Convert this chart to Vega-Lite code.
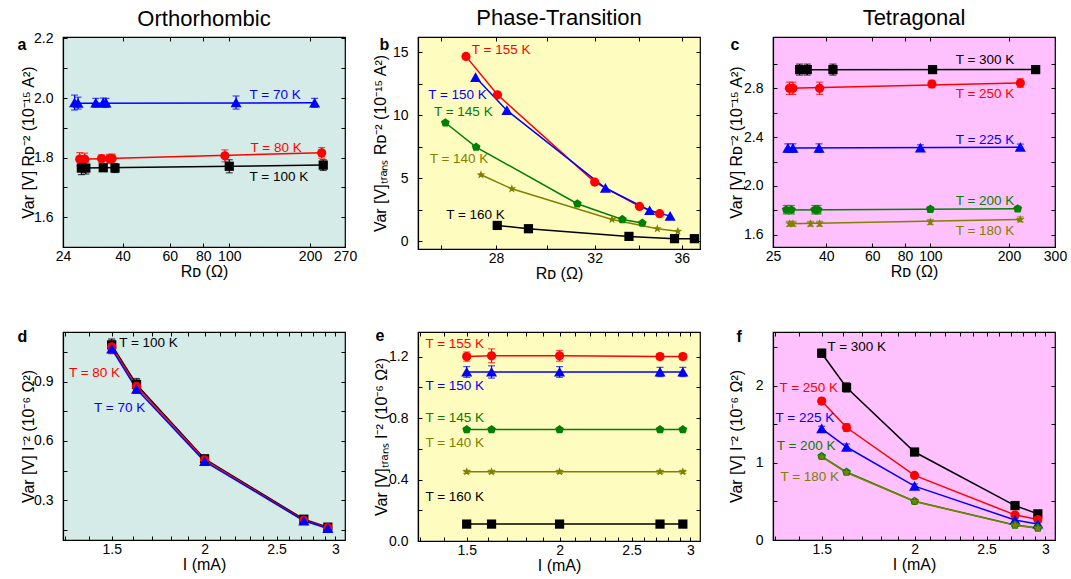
{
"$schema": "https://vega.github.io/schema/vega-lite/v6.json",
"padding": {"left": 16, "top": 6, "right": 2, "bottom": 2},
"background": "white",
"config": {
  "view": {"stroke": "#000"},
  "axis": {"tickSize": -4, "tickColor": "#000", "tickWidth": 1, "domainColor": "#000", "domainWidth": 1.2, "labelFont": "Liberation Sans", "labelFontSize": 14, "labelColor": "#000", "titleFont": "Liberation Sans", "titleFontSize": 16, "titleFontWeight": "normal", "titleColor": "#000", "grid": false, "labelFlush": false, "labelOverlap": false},
  "axisX": {"labelPadding": 6, "titlePadding": 0},
  "axisY": {"labelPadding": 14, "titleBaseline": "middle"},
  "title": {"font": "Liberation Sans", "fontSize": 22, "fontWeight": "normal", "anchor": "middle", "frame": "group", "color": "#000"}
},
"datasets": {
  "pa": [
    {"c":"b","x":26.5,"y":1.985,"e":0.025},{"c":"b","x":27.3,"y":1.983,"e":0.02},{"c":"b","x":31.8,"y":1.984,"e":0.015},{"c":"b","x":33.9,"y":1.985,"e":0.015},{"c":"b","x":34.7,"y":1.984,"e":0.015},{"c":"b","x":106,"y":1.985,"e":0.022},{"c":"b","x":208,"y":1.984,"e":0.015},
    {"c":"r","x":27.7,"y":1.795,"e":0.022},{"c":"r","x":28.9,"y":1.795,"e":0.02},{"c":"r","x":33.4,"y":1.797,"e":0.012},{"c":"r","x":35.7,"y":1.796,"e":0.015},{"c":"r","x":36.6,"y":1.797,"e":0.015},{"c":"r","x":96.3,"y":1.806,"e":0.02},{"c":"r","x":221,"y":1.816,"e":0.018},
    {"c":"k","x":28.1,"y":1.765,"e":0.022},{"c":"k","x":29.2,"y":1.765,"e":0.02},{"c":"k","x":33.9,"y":1.766,"e":0.012},{"c":"k","x":37.5,"y":1.765,"e":0.015},{"c":"k","x":100,"y":1.771,"e":0.022},{"c":"k","x":224,"y":1.775,"e":0.018}
  ],
  "fa": [
    {"c":"b","x":26.5,"y":1.983},{"c":"b","x":208,"y":1.984},
    {"c":"r","x":27.7,"y":1.795},{"c":"r","x":221,"y":1.816},
    {"c":"k","x":28.1,"y":1.765},{"c":"k","x":224,"y":1.775}
  ],
  "la": [
    {"c":"b","x":119,"y":2.011,"t":"T = 70 K"},
    {"c":"r","x":120,"y":1.834,"t":"T = 80 K"},
    {"c":"k","x":119,"y":1.735,"t":"T = 100 K"}
  ],
  "pb": [
    {"c":"r","x":26.89,"y":14.66},{"c":"r","x":28.06,"y":11.61},{"c":"r","x":32.0,"y":4.68},{"c":"r","x":34.0,"y":2.75},{"c":"r","x":34.94,"y":2.17},
    {"c":"b","x":27.24,"y":13.0},{"c":"b","x":28.42,"y":10.37},{"c":"b","x":32.47,"y":4.21},{"c":"b","x":34.47,"y":2.43},{"c":"b","x":35.44,"y":1.98},
    {"c":"g","x":26.15,"y":9.39},{"c":"g","x":27.26,"y":7.46},{"c":"g","x":31.26,"y":2.96},{"c":"g","x":33.22,"y":1.72},{"c":"g","x":34.13,"y":1.43},
    {"c":"o","x":27.44,"y":5.26},{"c":"o","x":28.61,"y":4.15},{"c":"o","x":32.76,"y":1.72},{"c":"o","x":34.83,"y":0.98},{"c":"o","x":35.81,"y":0.77},
    {"c":"k","x":28.05,"y":1.24},{"c":"k","x":29.26,"y":0.98},{"c":"k","x":33.52,"y":0.37},{"c":"k","x":35.65,"y":0.19},{"c":"k","x":36.62,"y":0.19}
  ],
  "lb": [
    {"c":"r","x":27.1,"y":15.2,"t":"T = 155 K"},
    {"c":"b","x":25.55,"y":11.6,"t":"T = 150 K"},
    {"c":"g","x":25.75,"y":10.24,"t":"T = 145 K"},
    {"c":"o","x":25.6,"y":6.53,"t":"T = 140 K"},
    {"c":"k","x":26.18,"y":2.09,"t":"T = 160 K"}
  ],
  "pc": [
    {"c":"k","x":31.6,"y":2.953,"e":0.045},{"c":"k","x":33.8,"y":2.953,"e":0.045},{"c":"k","x":42.4,"y":2.953,"e":0.045},{"c":"k","x":102,"y":2.953,"e":0.03},{"c":"k","x":253,"y":2.953,"e":0.03},
    {"c":"r","x":28.9,"y":2.80,"e":0.05},{"c":"r","x":29.8,"y":2.80,"e":0.05},{"c":"r","x":37.7,"y":2.80,"e":0.05},{"c":"r","x":101.4,"y":2.835,"e":0.03},{"c":"r","x":221,"y":2.843,"e":0.035},
    {"c":"b","x":28.5,"y":2.31,"e":0.035},{"c":"b","x":29.8,"y":2.31,"e":0.035},{"c":"b","x":37.5,"y":2.31,"e":0.035},{"c":"b","x":91.6,"y":2.312,"e":0.025},{"c":"b","x":221,"y":2.318,"e":0.025},
    {"c":"g","x":28.1,"y":1.805,"e":0.035},{"c":"g","x":29.4,"y":1.805,"e":0.035},{"c":"g","x":36.1,"y":1.805,"e":0.035},{"c":"g","x":37.2,"y":1.805,"e":0.035},{"c":"g","x":100,"y":1.81,"e":0.02},{"c":"g","x":216,"y":1.813,"e":0.02},
    {"c":"o","x":28.9,"y":1.69,"e":0.02},{"c":"o","x":29.8,"y":1.69,"e":0.02},{"c":"o","x":34.8,"y":1.69,"e":0.02},{"c":"o","x":37.7,"y":1.69,"e":0.02},{"c":"o","x":100,"y":1.704,"e":0.02},{"c":"o","x":221,"y":1.726,"e":0.02}
  ],
  "fc": [
    {"c":"k","x":31.6,"y":2.951},{"c":"k","x":253,"y":2.953},
    {"c":"r","x":28.9,"y":2.80},{"c":"r","x":221,"y":2.843},
    {"c":"b","x":28.5,"y":2.31},{"c":"b","x":221,"y":2.318},
    {"c":"g","x":28.1,"y":1.804},{"c":"g","x":216,"y":1.813},
    {"c":"o","x":28.9,"y":1.69},{"c":"o","x":221,"y":1.726}
  ],
  "lc": [
    {"c":"k","x":125,"y":3.035,"t":"T = 300 K"},
    {"c":"r","x":125,"y":2.753,"t":"T = 250 K"},
    {"c":"b","x":125,"y":2.38,"t":"T = 225 K"},
    {"c":"g","x":125,"y":1.874,"t":"T = 200 K"},
    {"c":"o","x":125,"y":1.63,"t":"T = 180 K"}
  ],
  "pd": [
    {"c":"k","x":1.5,"y":1.085,"e":0.03},{"c":"k","x":1.62,"y":0.885,"e":0.03},{"c":"k","x":2.0,"y":0.51,"e":0.015},{"c":"k","x":2.72,"y":0.205,"e":0.01},{"c":"k","x":2.93,"y":0.165,"e":0.01},
    {"c":"r","x":1.5,"y":1.075,"e":0.035},{"c":"r","x":1.62,"y":0.875,"e":0.035},{"c":"r","x":2.0,"y":0.505,"e":0.015},{"c":"r","x":2.72,"y":0.2,"e":0.01},{"c":"r","x":2.93,"y":0.162,"e":0.01},
    {"c":"b","x":1.5,"y":1.065,"e":0.02},{"c":"b","x":1.62,"y":0.862,"e":0.02},{"c":"b","x":2.0,"y":0.497,"e":0.01},{"c":"b","x":2.72,"y":0.197,"e":0.01},{"c":"b","x":2.93,"y":0.158,"e":0.01}
  ],
  "ld": [
    {"c":"k","x":1.535,"y":1.094,"t":"T = 100 K"},
    {"c":"r","x":1.314,"y":0.942,"t":"T = 80 K"},
    {"c":"b","x":1.42,"y":0.766,"t":"T = 70 K"}
  ],
  "pe": [
    {"c":"r","x":1.5,"y":1.2,"e":0.03},{"c":"r","x":1.62,"y":1.205,"e":0.045},{"c":"r","x":2.0,"y":1.205,"e":0.035},{"c":"r","x":2.73,"y":1.2,"e":0.02},{"c":"r","x":2.93,"y":1.2,"e":0.02},
    {"c":"b","x":1.5,"y":1.1,"e":0.035},{"c":"b","x":1.62,"y":1.1,"e":0.04},{"c":"b","x":2.0,"y":1.1,"e":0.035},{"c":"b","x":2.73,"y":1.1,"e":0.03},{"c":"b","x":2.93,"y":1.1,"e":0.03},
    {"c":"g","x":1.5,"y":0.725,"e":0.01},{"c":"g","x":1.62,"y":0.725,"e":0.01},{"c":"g","x":2.0,"y":0.725,"e":0.01},{"c":"g","x":2.73,"y":0.725,"e":0.01},{"c":"g","x":2.93,"y":0.725,"e":0.01},
    {"c":"o","x":1.5,"y":0.45,"e":0.01},{"c":"o","x":1.62,"y":0.45,"e":0.01},{"c":"o","x":2.0,"y":0.45,"e":0.01},{"c":"o","x":2.73,"y":0.45,"e":0.01},{"c":"o","x":2.93,"y":0.45,"e":0.01},
    {"c":"k","x":1.5,"y":0.11,"e":0.005},{"c":"k","x":1.62,"y":0.11,"e":0.005},{"c":"k","x":2.0,"y":0.11,"e":0.005},{"c":"k","x":2.73,"y":0.11,"e":0.005},{"c":"k","x":2.93,"y":0.11,"e":0.005}
  ],
  "le": [
    {"c":"r","x":1.32,"y":1.283,"t":"T = 155 K"},
    {"c":"b","x":1.32,"y":1.011,"t":"T = 150 K"},
    {"c":"g","x":1.32,"y":0.802,"t":"T = 145 K"},
    {"c":"o","x":1.32,"y":0.637,"t":"T = 140 K"},
    {"c":"k","x":1.32,"y":0.289,"t":"T = 160 K"}
  ],
  "pf": [
    {"c":"k","x":1.5,"y":2.425,"e":0.05},{"c":"k","x":1.62,"y":1.98,"e":0.06},{"c":"k","x":2.0,"y":1.142,"e":0.04},{"c":"k","x":2.73,"y":0.447,"e":0.02},{"c":"k","x":2.93,"y":0.339,"e":0.02},
    {"c":"r","x":1.5,"y":1.803,"e":0.04},{"c":"r","x":1.62,"y":1.46,"e":0.05},{"c":"r","x":2.0,"y":0.838,"e":0.03},{"c":"r","x":2.73,"y":0.326,"e":0.02},{"c":"r","x":2.93,"y":0.265,"e":0.02},
    {"c":"b","x":1.5,"y":1.447,"e":0.03},{"c":"b","x":1.62,"y":1.207,"e":0.04},{"c":"b","x":2.0,"y":0.699,"e":0.03},{"c":"b","x":2.73,"y":0.26,"e":0.02},{"c":"b","x":2.93,"y":0.208,"e":0.02},
    {"c":"g","x":1.5,"y":1.086,"e":0.02},{"c":"g","x":1.62,"y":0.882,"e":0.02},{"c":"g","x":2.0,"y":0.503,"e":0.02},{"c":"g","x":2.73,"y":0.195,"e":0.015},{"c":"g","x":2.93,"y":0.156,"e":0.015},
    {"c":"o","x":1.5,"y":1.08,"e":0.02},{"c":"o","x":1.62,"y":0.875,"e":0.02},{"c":"o","x":2.0,"y":0.5,"e":0.02},{"c":"o","x":2.73,"y":0.19,"e":0.015},{"c":"o","x":2.93,"y":0.152,"e":0.015}
  ],
  "lf": [
    {"c":"k","x":1.527,"y":2.51,"t":"T = 300 K"},
    {"c":"r","x":1.316,"y":1.97,"t":"T = 250 K"},
    {"c":"b","x":1.30,"y":1.585,"t":"T = 225 K"},
    {"c":"g","x":1.305,"y":1.216,"t":"T = 200 K"},
    {"c":"o","x":1.32,"y":0.816,"t":"T = 180 K"}
  ]
},
"vconcat": [
 {
  "bounds": "flush",
  "spacing": 73,
  "hconcat": [
   {
    "width": 282, "height": 210,
    "title": {"text": "Orthorhombic", "offset": 0},
    "view": {"fill": "#d5ebe8", "stroke": "#000", "strokeWidth": 1.2},
    "resolve": {"scale": {"x": "independent", "y": "independent"}},
    "layer": [
     {"data": {"name": "pa"}, "mark": {"type": "errorbar", "ticks": {"size": 7}, "thickness": 1.2},
      "encoding": {
       "x": {"field": "x", "type": "quantitative", "scale": {"type": "log", "domain": [24, 270], "nice": false}, "axis": null},
       "y": {"field": "y", "type": "quantitative", "scale": {"domain": [1.5, 2.205], "nice": false, "zero": false}, "axis": null},
       "yError": {"field": "e"},
       "color": {"field": "c", "type": "nominal", "scale": {"domain": ["k","r","b","g","o"], "range": ["#000000","#ff0000","#0000ff","#008000","#808000"]}, "legend": null}}},
     {"data": {"name": "fa"}, "mark": {"type": "line", "strokeWidth": 1.5},
      "encoding": {
       "x": {"field": "x", "type": "quantitative", "scale": {"type": "log", "domain": [24, 270], "nice": false}, "axis": {"orient": "bottom", "values": [24, 40, 60, 80, 100, 200, 270], "format": "~g", "title": "Rᴅ (Ω)"}},
       "y": {"field": "y", "type": "quantitative", "scale": {"domain": [1.5, 2.205], "nice": false, "zero": false}, "axis": {"orient": "left", "values": [1.6, 1.7, 1.8, 1.9, 2.0, 2.1, 2.2], "labelExpr": "round(datum.value*10)%2==0 ? format(datum.value,'.1f') : ''", "title": "Var [V] Rᴅ⁻²  (10⁻¹⁵ A²)", "titleX": -35}},
       "color": {"field": "c", "type": "nominal", "scale": {"domain": ["k","r","b","g","o"], "range": ["#000000","#ff0000","#0000ff","#008000","#808000"]}, "legend": null}}},
     {"data": {"name": "pa"}, "mark": {"type": "point", "filled": true, "opacity": 1, "size": 85},
      "encoding": {
       "x": {"field": "x", "type": "quantitative", "scale": {"type": "log", "domain": [24, 270], "nice": false}, "axis": null},
       "y": {"field": "y", "type": "quantitative", "scale": {"domain": [1.5, 2.205], "nice": false, "zero": false}, "axis": null},
       "color": {"field": "c", "type": "nominal", "scale": {"domain": ["k","r","b","g","o"], "range": ["#000000","#ff0000","#0000ff","#008000","#808000"]}, "legend": null},
       "shape": {"field": "c", "type": "nominal", "scale": {"domain": ["k","r","b","g","o"], "range": ["square","circle","M0,-1.1L1.2,1L-1.2,1Z","M0,-1L0.951,-0.309L0.588,0.809L-0.588,0.809L-0.951,-0.309Z","M0,-1L0.235,-0.324L0.951,-0.309L0.38,0.124L0.588,0.809L0,0.4L-0.588,0.809L-0.38,0.124L-0.951,-0.309L-0.235,-0.324Z"]}, "legend": null}}},
     {"data": {"name": "la"}, "mark": {"type": "text", "align": "left", "baseline": "middle", "fontSize": 13.5, "font": "Liberation Sans"},
      "encoding": {
       "x": {"field": "x", "type": "quantitative", "scale": {"type": "log", "domain": [24, 270], "nice": false}, "axis": {"orient": "top", "values": [24, 40, 60, 80, 100, 200, 270], "labels": false, "domain": false, "title": "a", "titleX": -46, "titleY": 12, "titleAngle": 0, "titleAlign": "left", "titleBaseline": "alphabetic", "titleFontWeight": "bold"}},
       "y": {"field": "y", "type": "quantitative", "scale": {"domain": [1.5, 2.205], "nice": false, "zero": false}, "axis": {"orient": "right", "values": [1.6, 1.7, 1.8, 1.9, 2.0, 2.1, 2.2], "labels": false, "title": null, "domain": false}},
       "text": {"field": "t"},
       "color": {"field": "c", "type": "nominal", "scale": {"domain": ["k","r","b","g","o"], "range": ["#000000","#ff0000","#0000ff","#008000","#808000"]}, "legend": null}}}
    ]
   },
   {
    "width": 282, "height": 212,
    "title": {"text": "Phase-Transition", "offset": 6},
    "view": {"fill": "#fffcc0", "stroke": "#000", "strokeWidth": 1.2},
    "resolve": {"scale": {"x": "independent", "y": "independent"}},
    "layer": [
     {"data": {"name": "pb"}, "mark": {"type": "line", "strokeWidth": 1.5},
      "encoding": {
       "x": {"field": "x", "type": "quantitative", "scale": {"type": "log", "domain": [25.2, 36.9], "nice": false}, "axis": {"orient": "bottom", "values": [26, 28, 30, 32, 34, 36], "labelExpr": "datum.value%4==0 ? format(datum.value,'d') : ''", "title": "Rᴅ (Ω)"}},
       "y": {"field": "y", "type": "quantitative", "scale": {"domain": [-0.63, 16.2], "nice": false, "zero": false}, "axis": {"orient": "left", "values": [0, 2.5, 5, 7.5, 10, 12.5, 15], "labelExpr": "datum.value%5==0 ? format(datum.value,'d') : ''", "title": "Var [V]ₜᵣₐₙₛ Rᴅ⁻²  (10⁻¹⁵ A²)", "titleX": -38}},
       "color": {"field": "c", "type": "nominal", "scale": {"domain": ["k","r","b","g","o"], "range": ["#000000","#ff0000","#0000ff","#008000","#808000"]}, "legend": null}}},
     {"data": {"name": "pb"}, "mark": {"type": "point", "filled": true, "opacity": 1, "size": 85},
      "encoding": {
       "x": {"field": "x", "type": "quantitative", "scale": {"type": "log", "domain": [25.2, 36.9], "nice": false}, "axis": null},
       "y": {"field": "y", "type": "quantitative", "scale": {"domain": [-0.63, 16.2], "nice": false, "zero": false}, "axis": null},
       "color": {"field": "c", "type": "nominal", "scale": {"domain": ["k","r","b","g","o"], "range": ["#000000","#ff0000","#0000ff","#008000","#808000"]}, "legend": null},
       "shape": {"field": "c", "type": "nominal", "scale": {"domain": ["k","r","b","g","o"], "range": ["square","circle","M0,-1.1L1.2,1L-1.2,1Z","M0,-1L0.951,-0.309L0.588,0.809L-0.588,0.809L-0.951,-0.309Z","M0,-1L0.235,-0.324L0.951,-0.309L0.38,0.124L0.588,0.809L0,0.4L-0.588,0.809L-0.38,0.124L-0.951,-0.309L-0.235,-0.324Z"]}, "legend": null}}},
     {"data": {"name": "lb"}, "mark": {"type": "text", "align": "left", "baseline": "middle", "fontSize": 13.5, "font": "Liberation Sans"},
      "encoding": {
       "x": {"field": "x", "type": "quantitative", "scale": {"type": "log", "domain": [25.2, 36.9], "nice": false}, "axis": {"orient": "top", "values": [26, 28, 30, 32, 34, 36], "labels": false, "domain": false, "title": "b", "titleX": -39, "titleY": 12, "titleAngle": 0, "titleAlign": "left", "titleBaseline": "alphabetic", "titleFontWeight": "bold"}},
       "y": {"field": "y", "type": "quantitative", "scale": {"domain": [-0.63, 16.2], "nice": false, "zero": false}, "axis": {"orient": "right", "values": [0, 2.5, 5, 7.5, 10, 12.5, 15], "labels": false, "title": null, "domain": false}},
       "text": {"field": "t"},
       "color": {"field": "c", "type": "nominal", "scale": {"domain": ["k","r","b","g","o"], "range": ["#000000","#ff0000","#0000ff","#008000","#808000"]}, "legend": null}}}
    ]
   },
   {
    "width": 282, "height": 210,
    "title": {"text": "Tetragonal", "offset": 6},
    "view": {"fill": "#fec1fe", "stroke": "#000", "strokeWidth": 1.2},
    "resolve": {"scale": {"x": "independent", "y": "independent"}},
    "layer": [
     {"data": {"name": "pc"}, "mark": {"type": "errorbar", "ticks": {"size": 7}, "thickness": 1.2},
      "encoding": {
       "x": {"field": "x", "type": "quantitative", "scale": {"type": "log", "domain": [25, 300], "nice": false}, "axis": null},
       "y": {"field": "y", "type": "quantitative", "scale": {"domain": [1.5, 3.22], "nice": false, "zero": false}, "axis": null},
       "yError": {"field": "e"},
       "color": {"field": "c", "type": "nominal", "scale": {"domain": ["k","r","b","g","o"], "range": ["#000000","#ff0000","#0000ff","#008000","#808000"]}, "legend": null}}},
     {"data": {"name": "fc"}, "mark": {"type": "line", "strokeWidth": 1.5},
      "encoding": {
       "x": {"field": "x", "type": "quantitative", "scale": {"type": "log", "domain": [25, 300], "nice": false}, "axis": {"orient": "bottom", "values": [25, 40, 60, 80, 100, 200, 300], "format": "~g", "title": "Rᴅ (Ω)"}},
       "y": {"field": "y", "type": "quantitative", "scale": {"domain": [1.5, 3.22], "nice": false, "zero": false}, "axis": {"orient": "left", "values": [1.6, 1.8, 2.0, 2.2, 2.4, 2.6, 2.8, 3.0], "labelExpr": "round(datum.value*10)%4==0 ? format(datum.value,'.1f') : ''", "title": "Var [V] Rᴅ⁻²  (10⁻¹⁵ A²)", "titleX": -37}},
       "color": {"field": "c", "type": "nominal", "scale": {"domain": ["k","r","b","g","o"], "range": ["#000000","#ff0000","#0000ff","#008000","#808000"]}, "legend": null}}},
     {"data": {"name": "pc"}, "mark": {"type": "point", "filled": true, "opacity": 1, "size": 85},
      "encoding": {
       "x": {"field": "x", "type": "quantitative", "scale": {"type": "log", "domain": [25, 300], "nice": false}, "axis": null},
       "y": {"field": "y", "type": "quantitative", "scale": {"domain": [1.5, 3.22], "nice": false, "zero": false}, "axis": null},
       "color": {"field": "c", "type": "nominal", "scale": {"domain": ["k","r","b","g","o"], "range": ["#000000","#ff0000","#0000ff","#008000","#808000"]}, "legend": null},
       "shape": {"field": "c", "type": "nominal", "scale": {"domain": ["k","r","b","g","o"], "range": ["square","circle","M0,-1.1L1.2,1L-1.2,1Z","M0,-1L0.951,-0.309L0.588,0.809L-0.588,0.809L-0.951,-0.309Z","M0,-1L0.235,-0.324L0.951,-0.309L0.38,0.124L0.588,0.809L0,0.4L-0.588,0.809L-0.38,0.124L-0.951,-0.309L-0.235,-0.324Z"]}, "legend": null}}},
     {"data": {"name": "lc"}, "mark": {"type": "text", "align": "left", "baseline": "middle", "fontSize": 13.5, "font": "Liberation Sans"},
      "encoding": {
       "x": {"field": "x", "type": "quantitative", "scale": {"type": "log", "domain": [25, 300], "nice": false}, "axis": {"orient": "top", "values": [25, 40, 60, 80, 100, 200, 300], "labels": false, "domain": false, "title": "c", "titleX": -43, "titleY": 12, "titleAngle": 0, "titleAlign": "left", "titleBaseline": "alphabetic", "titleFontWeight": "bold"}},
       "y": {"field": "y", "type": "quantitative", "scale": {"domain": [1.5, 3.22], "nice": false, "zero": false}, "axis": {"orient": "right", "values": [1.6, 1.8, 2.0, 2.2, 2.4, 2.6, 2.8, 3.0], "labels": false, "title": null, "domain": false}},
       "text": {"field": "t"},
       "color": {"field": "c", "type": "nominal", "scale": {"domain": ["k","r","b","g","o"], "range": ["#000000","#ff0000","#0000ff","#008000","#808000"]}, "legend": null}}}
    ]
   }
  ]
 },
 {
  "bounds": "flush",
  "spacing": 73,
  "hconcat": [
   {
    "width": 282, "height": 208,
    "view": {"fill": "#d5ebe8", "stroke": "#000", "strokeWidth": 1.2},
    "resolve": {"scale": {"x": "independent", "y": "independent"}},
    "layer": [
     {"data": {"name": "pd"}, "mark": {"type": "errorbar", "ticks": {"size": 7}, "thickness": 1.2},
      "encoding": {
       "x": {"field": "x", "type": "quantitative", "scale": {"type": "log", "domain": [1.29, 3.09], "nice": false}, "axis": null},
       "y": {"field": "y", "type": "quantitative", "scale": {"domain": [0.1, 1.15], "nice": false, "zero": false}, "axis": null},
       "yError": {"field": "e"},
       "color": {"field": "c", "type": "nominal", "scale": {"domain": ["k","r","b","g","o"], "range": ["#000000","#ff0000","#0000ff","#008000","#808000"]}, "legend": null}}},
     {"data": {"name": "pd"}, "mark": {"type": "line", "strokeWidth": 1.5},
      "encoding": {
       "x": {"field": "x", "type": "quantitative", "scale": {"type": "log", "domain": [1.29, 3.09], "nice": false}, "axis": {"orient": "bottom", "values": [1.3,1.4,1.5,1.6,1.7,1.8,1.9,2,2.1,2.2,2.3,2.4,2.5,2.6,2.7,2.8,2.9,3], "labelExpr": "round(datum.value*10)%5==0 ? format(datum.value,'~g') : ''", "title": "I (mA)"}},
       "y": {"field": "y", "type": "quantitative", "scale": {"domain": [0.1, 1.15], "nice": false, "zero": false}, "axis": {"orient": "left", "values": [0.15, 0.3, 0.45, 0.6, 0.75, 0.9, 1.05], "labelExpr": "round(datum.value*100)%30==0 ? format(datum.value,'.1f') : ''", "title": "Var [V] I⁻²  (10⁻⁶ Ω²)", "titleX": -35}},
       "color": {"field": "c", "type": "nominal", "scale": {"domain": ["k","r","b","g","o"], "range": ["#000000","#ff0000","#0000ff","#008000","#808000"]}, "legend": null}}},
     {"data": {"name": "pd"}, "mark": {"type": "point", "filled": true, "opacity": 1, "size": 85},
      "encoding": {
       "x": {"field": "x", "type": "quantitative", "scale": {"type": "log", "domain": [1.29, 3.09], "nice": false}, "axis": null},
       "y": {"field": "y", "type": "quantitative", "scale": {"domain": [0.1, 1.15], "nice": false, "zero": false}, "axis": null},
       "color": {"field": "c", "type": "nominal", "scale": {"domain": ["k","r","b","g","o"], "range": ["#000000","#ff0000","#0000ff","#008000","#808000"]}, "legend": null},
       "shape": {"field": "c", "type": "nominal", "scale": {"domain": ["k","r","b","g","o"], "range": ["square","circle","M0,-1.1L1.2,1L-1.2,1Z","M0,-1L0.951,-0.309L0.588,0.809L-0.588,0.809L-0.951,-0.309Z","M0,-1L0.235,-0.324L0.951,-0.309L0.38,0.124L0.588,0.809L0,0.4L-0.588,0.809L-0.38,0.124L-0.951,-0.309L-0.235,-0.324Z"]}, "legend": null}}},
     {"data": {"name": "ld"}, "mark": {"type": "text", "align": "left", "baseline": "middle", "fontSize": 13.5, "font": "Liberation Sans"},
      "encoding": {
       "x": {"field": "x", "type": "quantitative", "scale": {"type": "log", "domain": [1.29, 3.09], "nice": false}, "axis": {"orient": "top", "values": [1.3,1.4,1.5,1.6,1.7,1.8,1.9,2,2.1,2.2,2.3,2.4,2.5,2.6,2.7,2.8,2.9,3], "labels": false, "domain": false, "title": "d", "titleX": -46, "titleY": 9, "titleAngle": 0, "titleAlign": "left", "titleBaseline": "alphabetic", "titleFontWeight": "bold"}},
       "y": {"field": "y", "type": "quantitative", "scale": {"domain": [0.1, 1.15], "nice": false, "zero": false}, "axis": {"orient": "right", "values": [0.15, 0.3, 0.45, 0.6, 0.75, 0.9, 1.05], "labels": false, "title": null, "domain": false}},
       "text": {"field": "t"},
       "color": {"field": "c", "type": "nominal", "scale": {"domain": ["k","r","b","g","o"], "range": ["#000000","#ff0000","#0000ff","#008000","#808000"]}, "legend": null}}}
    ]
   },
   {
    "width": 282, "height": 209,
    "view": {"fill": "#fffcc0", "stroke": "#000", "strokeWidth": 1.2},
    "resolve": {"scale": {"x": "independent", "y": "independent"}},
    "layer": [
     {"data": {"name": "pe"}, "mark": {"type": "errorbar", "ticks": {"size": 7}, "thickness": 1.2},
      "encoding": {
       "x": {"field": "x", "type": "quantitative", "scale": {"type": "log", "domain": [1.29, 3.09], "nice": false}, "axis": null},
       "y": {"field": "y", "type": "quantitative", "scale": {"domain": [0, 1.36], "nice": false, "zero": false}, "axis": null},
       "yError": {"field": "e"},
       "color": {"field": "c", "type": "nominal", "scale": {"domain": ["k","r","b","g","o"], "range": ["#000000","#ff0000","#0000ff","#008000","#808000"]}, "legend": null}}},
     {"data": {"name": "pe"}, "mark": {"type": "line", "strokeWidth": 1.5},
      "encoding": {
       "x": {"field": "x", "type": "quantitative", "scale": {"type": "log", "domain": [1.29, 3.09], "nice": false}, "axis": {"orient": "bottom", "values": [1.3,1.4,1.5,1.6,1.7,1.8,1.9,2,2.1,2.2,2.3,2.4,2.5,2.6,2.7,2.8,2.9,3], "labelExpr": "round(datum.value*10)%5==0 ? format(datum.value,'~g') : ''", "title": "I (mA)"}},
       "y": {"field": "y", "type": "quantitative", "scale": {"domain": [0, 1.36], "nice": false, "zero": false}, "axis": {"orient": "left", "values": [0, 0.2, 0.4, 0.6, 0.8, 1.0, 1.2], "labelExpr": "round(datum.value*10)%4==0 ? format(datum.value,'.1f') : ''", "title": "Var [V]ₜᵣₐₙₛ I⁻²  (10⁻⁶ Ω²)", "titleX": -37}},
       "color": {"field": "c", "type": "nominal", "scale": {"domain": ["k","r","b","g","o"], "range": ["#000000","#ff0000","#0000ff","#008000","#808000"]}, "legend": null}}},
     {"data": {"name": "pe"}, "mark": {"type": "point", "filled": true, "opacity": 1, "size": 85},
      "encoding": {
       "x": {"field": "x", "type": "quantitative", "scale": {"type": "log", "domain": [1.29, 3.09], "nice": false}, "axis": null},
       "y": {"field": "y", "type": "quantitative", "scale": {"domain": [0, 1.36], "nice": false, "zero": false}, "axis": null},
       "color": {"field": "c", "type": "nominal", "scale": {"domain": ["k","r","b","g","o"], "range": ["#000000","#ff0000","#0000ff","#008000","#808000"]}, "legend": null},
       "shape": {"field": "c", "type": "nominal", "scale": {"domain": ["k","r","b","g","o"], "range": ["square","circle","M0,-1.1L1.2,1L-1.2,1Z","M0,-1L0.951,-0.309L0.588,0.809L-0.588,0.809L-0.951,-0.309Z","M0,-1L0.235,-0.324L0.951,-0.309L0.38,0.124L0.588,0.809L0,0.4L-0.588,0.809L-0.38,0.124L-0.951,-0.309L-0.235,-0.324Z"]}, "legend": null}}},
     {"data": {"name": "le"}, "mark": {"type": "text", "align": "left", "baseline": "middle", "fontSize": 13.5, "font": "Liberation Sans"},
      "encoding": {
       "x": {"field": "x", "type": "quantitative", "scale": {"type": "log", "domain": [1.29, 3.09], "nice": false}, "axis": {"orient": "top", "values": [1.3,1.4,1.5,1.6,1.7,1.8,1.9,2,2.1,2.2,2.3,2.4,2.5,2.6,2.7,2.8,2.9,3], "labels": false, "domain": false, "title": "e", "titleX": -43, "titleY": 8, "titleAngle": 0, "titleAlign": "left", "titleBaseline": "alphabetic", "titleFontWeight": "bold"}},
       "y": {"field": "y", "type": "quantitative", "scale": {"domain": [0, 1.36], "nice": false, "zero": false}, "axis": {"orient": "right", "values": [0, 0.2, 0.4, 0.6, 0.8, 1.0, 1.2], "labels": false, "title": null, "domain": false}},
       "text": {"field": "t"},
       "color": {"field": "c", "type": "nominal", "scale": {"domain": ["k","r","b","g","o"], "range": ["#000000","#ff0000","#0000ff","#008000","#808000"]}, "legend": null}}}
    ]
   },
   {
    "width": 282, "height": 208,
    "view": {"fill": "#fec1fe", "stroke": "#000", "strokeWidth": 1.2},
    "resolve": {"scale": {"x": "independent", "y": "independent"}},
    "layer": [
     {"data": {"name": "pf"}, "mark": {"type": "errorbar", "ticks": {"size": 7}, "thickness": 1.2},
      "encoding": {
       "x": {"field": "x", "type": "quantitative", "scale": {"type": "log", "domain": [1.29, 3.09], "nice": false}, "axis": null},
       "y": {"field": "y", "type": "quantitative", "scale": {"domain": [0, 2.7], "nice": false, "zero": false}, "axis": null},
       "yError": {"field": "e"},
       "color": {"field": "c", "type": "nominal", "scale": {"domain": ["k","r","b","g","o"], "range": ["#000000","#ff0000","#0000ff","#008000","#808000"]}, "legend": null}}},
     {"data": {"name": "pf"}, "mark": {"type": "line", "strokeWidth": 1.5},
      "encoding": {
       "x": {"field": "x", "type": "quantitative", "scale": {"type": "log", "domain": [1.29, 3.09], "nice": false}, "axis": {"orient": "bottom", "values": [1.3,1.4,1.5,1.6,1.7,1.8,1.9,2,2.1,2.2,2.3,2.4,2.5,2.6,2.7,2.8,2.9,3], "labelExpr": "round(datum.value*10)%5==0 ? format(datum.value,'~g') : ''", "title": "I (mA)"}},
       "y": {"field": "y", "type": "quantitative", "scale": {"domain": [0, 2.7], "nice": false, "zero": false}, "axis": {"orient": "left", "values": [0, 0.5, 1, 1.5, 2, 2.5], "labelExpr": "datum.value%1==0 ? format(datum.value,'d') : ''", "title": "Var [V] I⁻²  (10⁻⁶ Ω²)", "titleX": -37}},
       "color": {"field": "c", "type": "nominal", "scale": {"domain": ["k","r","b","g","o"], "range": ["#000000","#ff0000","#0000ff","#008000","#808000"]}, "legend": null}}},
     {"data": {"name": "pf"}, "mark": {"type": "point", "filled": true, "opacity": 1, "size": 85},
      "encoding": {
       "x": {"field": "x", "type": "quantitative", "scale": {"type": "log", "domain": [1.29, 3.09], "nice": false}, "axis": null},
       "y": {"field": "y", "type": "quantitative", "scale": {"domain": [0, 2.7], "nice": false, "zero": false}, "axis": null},
       "color": {"field": "c", "type": "nominal", "scale": {"domain": ["k","r","b","g","o"], "range": ["#000000","#ff0000","#0000ff","#008000","#808000"]}, "legend": null},
       "shape": {"field": "c", "type": "nominal", "scale": {"domain": ["k","r","b","g","o"], "range": ["square","circle","M0,-1.1L1.2,1L-1.2,1Z","M0,-1L0.951,-0.309L0.588,0.809L-0.588,0.809L-0.951,-0.309Z","M0,-1L0.235,-0.324L0.951,-0.309L0.38,0.124L0.588,0.809L0,0.4L-0.588,0.809L-0.38,0.124L-0.951,-0.309L-0.235,-0.324Z"]}, "legend": null}}},
     {"data": {"name": "lf"}, "mark": {"type": "text", "align": "left", "baseline": "middle", "fontSize": 13.5, "font": "Liberation Sans"},
      "encoding": {
       "x": {"field": "x", "type": "quantitative", "scale": {"type": "log", "domain": [1.29, 3.09], "nice": false}, "axis": {"orient": "top", "values": [1.3,1.4,1.5,1.6,1.7,1.8,1.9,2,2.1,2.2,2.3,2.4,2.5,2.6,2.7,2.8,2.9,3], "labels": false, "domain": false, "title": "f", "titleX": -37, "titleY": 9, "titleAngle": 0, "titleAlign": "left", "titleBaseline": "alphabetic", "titleFontWeight": "bold"}},
       "y": {"field": "y", "type": "quantitative", "scale": {"domain": [0, 2.7], "nice": false, "zero": false}, "axis": {"orient": "right", "values": [0, 0.5, 1, 1.5, 2, 2.5], "labels": false, "title": null, "domain": false}},
       "text": {"field": "t"},
       "color": {"field": "c", "type": "nominal", "scale": {"domain": ["k","r","b","g","o"], "range": ["#000000","#ff0000","#0000ff","#008000","#808000"]}, "legend": null}}}
    ]
   }
  ]
 }
],
"spacing": 44
}
